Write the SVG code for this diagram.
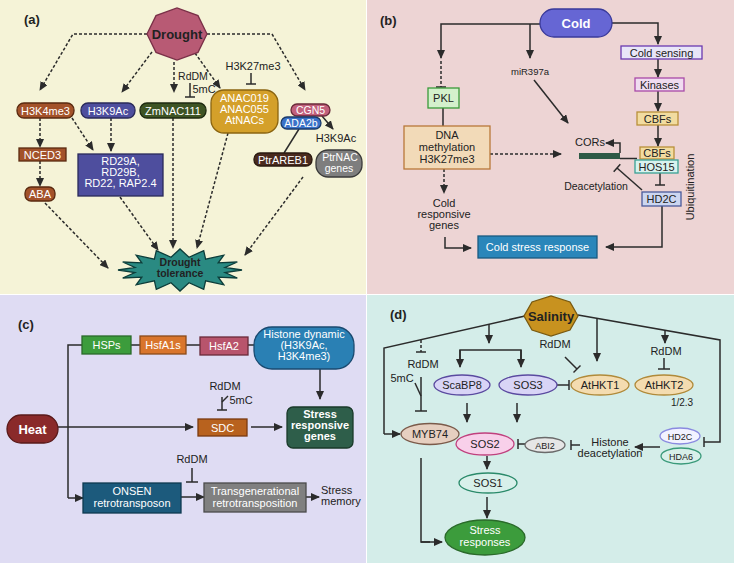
<svg xmlns="http://www.w3.org/2000/svg" width="734" height="563" viewBox="0 0 734 563">
<defs>
<marker id="ah" markerUnits="userSpaceOnUse" markerWidth="9" markerHeight="8" refX="8" refY="4" orient="auto"><path d="M0,0 L9,4 L0,8 z" fill="#2b2b2b"/></marker>
<style>
.c{stroke:#2b2b2b;stroke-width:1.5;fill:none}
.d{stroke-dasharray:3 2}
.a{marker-end:url(#ah)}
text{font-family:"Liberation Sans",Arial,sans-serif;font-size:11px;text-anchor:middle;fill:#222}
.w{fill:#fff}
.b{font-weight:bold}
.lab{font-weight:bold;font-size:13px;text-anchor:start}
.n{stroke-width:1.3}
</style>
</defs>
<rect width="734" height="563" fill="#ffffff"/>
<rect x="0" y="0" width="366" height="294" fill="#f5f3d7"/>
<rect x="367" y="0" width="367" height="294" fill="#edd4d4"/>
<rect x="0" y="295" width="366" height="268" fill="#dfdcf3"/>
<rect x="367" y="295" width="367" height="268" fill="#d4ede9"/>

<text class="lab" x="24" y="24">(a)</text>
<text class="lab" x="380" y="25">(b)</text>
<text class="lab" x="18" y="329">(c)</text>
<text class="lab" x="390" y="319">(d)</text>

<!-- connectors -->
<g id="connectors">
<!-- panel a -->
<polyline class="c d a" points="147,34 73,34 40,90"/>
<line class="c d a" x1="152" y1="52" x2="122" y2="92"/>
<line class="c d a" x1="174" y1="62" x2="174" y2="92"/>
<line class="c d a" x1="195" y1="53" x2="220" y2="88"/>
<polyline class="c d a" points="207,34 272,34 305,90"/>
<line class="c d a" x1="40" y1="118" x2="40" y2="147"/>
<line class="c d a" x1="40" y1="161" x2="40" y2="186"/>
<line class="c d a" x1="72" y1="118" x2="93" y2="150"/>
<line class="c d a" x1="111" y1="118" x2="111" y2="151"/>
<line class="c d a" x1="45" y1="203" x2="108" y2="268"/>
<line class="c d a" x1="120" y1="197" x2="158" y2="250"/>
<line class="c d a" x1="173" y1="118" x2="173" y2="248"/>
<line class="c d a" x1="228" y1="133" x2="197" y2="248"/>
<line class="c d a" x1="303" y1="177" x2="245" y2="255"/>
<line class="c" x1="251" y1="73" x2="251" y2="84"/><line class="c" x1="246" y1="84" x2="256" y2="84"/>
<line class="c" x1="190" y1="83" x2="190" y2="97"/><line class="c" x1="185" y1="97" x2="195" y2="97"/>
<line class="c a" x1="322" y1="116" x2="333" y2="129"/>
<line class="c" x1="299" y1="129" x2="284" y2="153"/>
<!-- panel b -->
<polyline class="c a" points="540,24 441,24 441,58"/>
<line class="c d" x1="441" y1="61" x2="441" y2="87"/><line class="c" x1="436" y1="87" x2="446" y2="87"/>
<line class="c" x1="443" y1="108" x2="443" y2="126"/>
<line class="c a" x1="530" y1="24" x2="530" y2="58"/>
<line class="c a" x1="534" y1="80" x2="568" y2="123"/>
<polyline class="c a" points="612,23 658,23 658,44"/>
<line class="c a" x1="658" y1="59" x2="658" y2="77"/>
<line class="c a" x1="658" y1="91" x2="658" y2="111"/>
<line class="c a" x1="658" y1="125" x2="658" y2="146"/>
<line class="c" x1="620" y1="158.5" x2="637" y2="158.5" stroke-width="1"/>
<polyline class="c a" points="620,153 620,143 606,143"/>
<line class="c d a" x1="490" y1="154" x2="561" y2="154"/>
<line class="c d a" x1="444" y1="169" x2="444" y2="193"/>
<polyline class="c a" points="445,237 445,248 471,248"/>
<line class="c" x1="660" y1="173" x2="660" y2="185"/><line class="c" x1="655" y1="185" x2="665" y2="185"/>
<polyline class="c a" points="662,206 662,247 606,247"/>
<line class="c" x1="642" y1="190" x2="617" y2="168"/><line class="c" x1="620.3" y1="164.2" x2="613.7" y2="171.8"/>
<!-- panel c -->
<polyline class="c" points="82,345 68,345 68,498"/>
<line class="c a" x1="68" y1="498" x2="83" y2="498"/>
<line class="c" x1="131" y1="345" x2="140" y2="345"/>
<line class="c" x1="186" y1="345" x2="200" y2="345"/>
<line class="c" x1="248" y1="345" x2="254" y2="345"/>
<line class="c a" x1="320" y1="369" x2="320" y2="399"/>
<line class="c a" x1="58" y1="427" x2="193" y2="427"/>
<line class="c a" x1="251" y1="427" x2="282" y2="427"/>
<line class="c" x1="222" y1="397" x2="222" y2="410"/><line class="c" x1="217" y1="410" x2="227" y2="410"/>
<line class="c" x1="222" y1="402" x2="228" y2="396" stroke-width="1"/>
<line class="c" x1="192" y1="468" x2="192" y2="482"/><line class="c" x1="186" y1="482" x2="198" y2="482"/>
<line class="c a" x1="181" y1="497" x2="204" y2="497"/>
<line class="c a" x1="306" y1="497" x2="319" y2="497"/>
<!-- panel d -->
<polyline class="c" points="525,316 384,348 384,434"/>
<line class="c a" x1="384" y1="434" x2="400" y2="434"/>
<line class="c a" x1="489" y1="324" x2="489" y2="343"/>
<polyline class="c" points="460,360 460,350 521,350 521,360"/>
<line class="c a" x1="460" y1="350" x2="460" y2="367"/>
<line class="c a" x1="521" y1="350" x2="521" y2="367"/>
<line class="c d" x1="421" y1="340" x2="421" y2="352"/><line class="c" x1="416" y1="352" x2="426" y2="352"/>
<line class="c" x1="421" y1="377" x2="421" y2="411"/><line class="c" x1="415" y1="411" x2="427" y2="411"/>
<line class="c" x1="415" y1="383" x2="421" y2="396" stroke-width="1"/>
<polyline class="c" points="578,315 720,340 720,442 704,442"/><line class="c" x1="704" y1="437" x2="704" y2="447"/>
<line class="c a" x1="597" y1="318" x2="597" y2="361"/>
<line class="c a" x1="665" y1="330" x2="665" y2="343"/>
<line class="c" x1="664" y1="358" x2="664" y2="369"/><line class="c" x1="658" y1="369" x2="670" y2="369"/>
<line class="c" x1="565" y1="357" x2="577" y2="369"/><line class="c" x1="580.5" y1="365.5" x2="573.5" y2="372.5"/>
<line class="c" x1="557" y1="385" x2="569" y2="385"/><line class="c" x1="569" y1="380" x2="569" y2="390"/>
<line class="c a" x1="467" y1="403" x2="467" y2="422"/>
<line class="c a" x1="517" y1="403" x2="517" y2="422"/>
<line class="c" x1="518" y1="444" x2="525" y2="444"/><line class="c" x1="518" y1="439" x2="518" y2="449"/>
<line class="c" x1="571" y1="445" x2="580" y2="445"/><line class="c" x1="571" y1="440" x2="571" y2="450"/>
<line class="c a" x1="660" y1="447" x2="635" y2="447"/>
<line class="c a" x1="487" y1="456" x2="487" y2="469"/>
<line class="c a" x1="487" y1="497" x2="487" y2="518"/>
<polyline class="c" points="421,458 421,542 430,542"/>
<line class="c a" x1="421" y1="542" x2="442" y2="542"/>
</g>

<!-- panel a nodes -->
<g id="drought"><polygon points="207,34 198,52.4 177,60 156,52.4 147,34 156,15.6 177,8 198,15.6" fill="#b85a74" stroke="#7a3048" class="n"/><text class="b" x="177" y="39" style="font-size:13px">Drought</text></g>
<g id="h3k4me3"><rect x="17" y="103" width="57" height="15" rx="7" fill="#a3522a" stroke="#5a2a10" class="n"/><text class="w" x="45.5" y="114.5">H3K4me3</text></g>
<g id="h3k9ac"><rect x="81" y="103" width="54" height="15" rx="7" fill="#4e4e9e" stroke="#2a2a5a" class="n"/><text class="w" x="108" y="114.5">H3K9Ac</text></g>
<g id="zmnac111"><rect x="140" y="103" width="66" height="15" rx="7" fill="#3e5424" stroke="#1e2a10" class="n"/><text class="w" x="173" y="114.5">ZmNAC111</text></g>
<g id="rddm-a"><text x="193" y="80" style="font-size:10.5px">RdDM</text><text x="204" y="93">5mC</text></g>
<g id="h3k27me3"><text x="253" y="70">H3K27me3</text></g>
<g id="anac"><rect x="211" y="90" width="67" height="43" rx="13" fill="#d4a02a" stroke="#8a6410" class="n"/><text class="w" x="244.5" y="102">ANAC019</text><text class="w" x="244.5" y="113">ANAC055</text><text class="w" x="244.5" y="124">AtNACs</text></g>
<g id="cgn5"><rect x="291" y="104" width="39" height="12" rx="6" fill="#c2607c" stroke="#6a2a3a" class="n"/><text class="w" x="310.5" y="113.5" style="font-size:10.5px">CGN5</text></g>
<g id="ada2b"><rect x="281" y="117" width="40" height="12" rx="6" fill="#3a72c8" stroke="#1a3a6a" class="n"/><text class="w" x="301" y="126.5" style="font-size:10.5px">ADA2b</text></g>
<g id="h3k9ac-label"><text x="336" y="142">H3K9Ac</text></g>
<g id="ptrareb1"><rect x="254" y="153" width="58" height="13" rx="6" fill="#4a2a1e" stroke="#2a1a10" class="n"/><text class="w" x="283" y="163.5">PtrAREB1</text></g>
<g id="ptrnac"><rect x="316" y="150" width="46" height="27" rx="12" fill="#7e7e7e" stroke="#3a3a3a" class="n"/><text class="w" x="340" y="160.5" style="font-size:10.5px">PtrNAC</text><text class="w" x="339" y="171.5" style="font-size:10.5px">genes</text></g>
<g id="nced3"><rect x="19" y="148" width="47" height="13" fill="#a3522a" stroke="#5a2a10" class="n"/><text class="w" x="42.5" y="158.5">NCED3</text></g>
<g id="aba"><rect x="25" y="187" width="30" height="14" rx="6" fill="#a3522a" stroke="#5a2a10" class="n"/><text class="w" x="40" y="198">ABA</text></g>
<g id="rd"><rect x="78" y="154" width="85" height="42" fill="#4e4e9e" stroke="#2a2a5a" class="n"/><text class="w" x="120.5" y="165">RD29A,</text><text class="w" x="120.5" y="176">RD29B,</text><text class="w" x="120.5" y="187">RD22, RAP2.4</text></g>
<g id="drought-tolerance"><polygon points="242,270 225.1,272.5 237.3,278 218.2,277.2 223.8,284.8 205.6,280.8 203.7,289.4 189,282.75 180,291 171,282.75 156.3,289.4 154.4,280.8 136.2,284.8 141.8,277.2 122.7,278 134.9,272.5 118,270 134.9,267.5 122.7,262 141.8,262.8 136.2,255.2 154.4,259.2 156.3,250.6 171,257.25 180,249 189,257.25 203.7,250.6 205.6,259.2 223.8,255.2 218.2,262.8 237.3,262 225.1,267.5" fill="#2a8a82" stroke="#0d3d3a" class="n"/><text class="b" x="180" y="266" style="font-size:10.5px">Drought</text><text class="b" x="180" y="277" style="font-size:10.5px">tolerance</text></g>

<!-- panel b nodes -->
<g id="cold"><rect x="540" y="9" width="72" height="28" rx="14" fill="#6666d4" stroke="#3a3a9a" class="n"/><text class="w b" x="576" y="28" style="font-size:13px">Cold</text></g>
<g id="pkl"><rect x="428" y="88" width="31" height="20" fill="#d4f0cc" stroke="#3a9a3a" class="n"/><text x="443.5" y="102">PKL</text></g>
<g id="mir397a"><text x="530" y="75" style="font-size:9.5px">miR397a</text></g>
<g id="dna"><rect x="404" y="126" width="86" height="43" fill="#f2dab8" stroke="#b8783a" class="n"/><text x="447" y="139">DNA</text><text x="447" y="151">methylation</text><text x="447" y="163">H3K27me3</text></g>
<g id="cold-sensing"><rect x="621" y="46" width="81" height="13" fill="#e8e6f8" stroke="#6a3ab0" class="n"/><text x="661.5" y="56.5">Cold sensing</text></g>
<g id="kinases"><rect x="635" y="78" width="49" height="13" fill="#f0dcf0" stroke="#a84aa8" class="n"/><text x="659.5" y="88.5">Kinases</text></g>
<g id="cbfs1"><rect x="637" y="112" width="41" height="13" fill="#f2dca0" stroke="#b8903a" class="n"/><text x="657.5" y="122.5">CBFs</text></g>
<g id="cbfs2"><rect x="640" y="147" width="34" height="12" fill="#f2dca0" stroke="#b8903a" class="n"/><text x="657" y="157">CBFs</text></g>
<g id="hos15"><rect x="635" y="160" width="43" height="13" fill="#d8f2ee" stroke="#3aa094" class="n"/><text x="656.5" y="170.5">HOS15</text></g>
<g id="cors"><rect x="579" y="153" width="41" height="6" fill="#2e5a46"/><text x="590" y="146">CORs</text></g>
<g id="cold-genes"><text x="444" y="207">Cold</text><text x="444" y="218">responsive</text><text x="444" y="229">genes</text></g>
<g id="hd2c-b"><rect x="642" y="192" width="39" height="14" fill="#ccd6f0" stroke="#4a5a9a" class="n"/><text x="661.5" y="203">HD2C</text></g>
<g id="deacetylation"><text x="596" y="190" style="font-size:10.5px">Deacetylation</text></g>
<g id="ubiquitination"><text x="0" y="0" transform="translate(694,187) rotate(-90)">Ubiquitination</text></g>
<g id="cold-stress"><rect x="478" y="236" width="119" height="22" fill="#2a86ba" stroke="#1a5a80" class="n"/><text class="w" x="537.5" y="251">Cold stress response</text></g>

<!-- panel c nodes -->
<g id="heat"><rect x="7" y="415" width="51" height="28" rx="14" fill="#8a2a2a" stroke="#5a1a1a" class="n"/><text class="w b" x="32.5" y="434" style="font-size:13px">Heat</text></g>
<g id="hsps"><rect x="82" y="336" width="49" height="18" fill="#3c9c3c" stroke="#2a6a2a" class="n"/><text class="w" x="106.5" y="349">HSPs</text></g>
<g id="hsfa1s"><rect x="140" y="336" width="46" height="18" fill="#d9752c" stroke="#8a4a1a" class="n"/><text class="w" x="163" y="349">HsfA1s</text></g>
<g id="hsfa2"><rect x="200" y="337" width="48" height="18" fill="#b8546c" stroke="#6a2a3a" class="n"/><text class="w" x="224" y="350">HsfA2</text></g>
<g id="histone-dynamic"><rect x="254" y="327" width="100" height="42" rx="18" fill="#2a80b4" stroke="#1a4a70" class="n"/><text class="w" x="304" y="338">Histone dynamic</text><text class="w" x="304" y="349">(H3K9Ac,</text><text class="w" x="304" y="360">H3K4me3)</text></g>
<g id="rddm-c1"><text x="225" y="390">RdDM</text><text x="241" y="404">5mC</text></g>
<g id="sdc"><rect x="198" y="419" width="49" height="17" fill="#b8621e" stroke="#7a3a10" class="n"/><text class="w" x="222.5" y="431.5">SDC</text></g>
<g id="stress-genes"><rect x="287" y="407" width="66" height="41" rx="6" fill="#2e5e4a" stroke="#1a3a2a" class="n"/><text class="w b" x="320" y="418">Stress</text><text class="w b" x="320" y="429">responsive</text><text class="w b" x="320" y="440">genes</text></g>
<g id="rddm-c2"><text x="192" y="463">RdDM</text></g>
<g id="onsen"><rect x="83" y="483" width="98" height="30" fill="#1c5a7c" stroke="#0e3a50" class="n"/><text class="w" x="132" y="495">ONSEN</text><text class="w" x="132" y="507">retrotransposon</text></g>
<g id="transgen"><rect x="204" y="483" width="102" height="29" fill="#808080" stroke="#4a4a4a" class="n"/><text class="w" x="255" y="495">Transgenerational</text><text class="w" x="255" y="507">retrotransposition</text></g>
<g id="stress-memory"><text x="321" y="494" style="text-anchor:start">Stress</text><text x="321" y="505" style="text-anchor:start">memory</text></g>

<!-- panel d nodes -->
<g id="salinity"><polygon points="578,316 570,330 551,336 532,330 524,316 532,302 551,296 570,302" fill="#c8921f" stroke="#7a5a10" class="n"/><text class="b" x="551" y="321" style="font-size:13px">Salinity</text></g>
<g id="rddm-d1"><text x="423" y="368">RdDM</text><text x="402" y="382">5mC</text></g>
<g id="rddm-d2"><text x="555" y="348">RdDM</text></g>
<g id="rddm-d3"><text x="666" y="355">RdDM</text></g>
<g id="scabp8"><ellipse cx="462" cy="385" rx="28" ry="10" fill="#d8d4f6" stroke="#5a4aa0" class="n"/><text x="462" y="389">ScaBP8</text></g>
<g id="sos3"><ellipse cx="528" cy="385" rx="29" ry="10" fill="#d8d4f6" stroke="#5a4aa0" class="n"/><text x="528" y="389">SOS3</text></g>
<g id="athkt1"><ellipse cx="600" cy="385" rx="29" ry="10" fill="#f4dcb0" stroke="#b08a3a" class="n"/><text x="600" y="389">AtHKT1</text></g>
<g id="athkt2"><ellipse cx="664" cy="385" rx="29" ry="10" fill="#f4dcb0" stroke="#b08a3a" class="n"/><text x="664" y="389">AtHKT2</text><text x="682" y="406" style="font-size:10px">1/2.3</text></g>
<g id="myb74"><ellipse cx="430" cy="434" rx="29" ry="10.5" fill="#e6cfc0" stroke="#7a5a4a" class="n"/><text x="430" y="438">MYB74</text></g>
<g id="sos2"><ellipse cx="485" cy="444" rx="29" ry="11" fill="#f8d0ea" stroke="#c0407e" class="n"/><text x="485" y="448">SOS2</text></g>
<g id="abi2"><ellipse cx="545" cy="445" rx="20" ry="7.5" fill="#e6e6e6" stroke="#6a6a6a" class="n"/><text x="545" y="448.5" style="font-size:9px">ABI2</text></g>
<g id="histone-deacetylation"><text x="610" y="446">Histone</text><text x="610" y="457">deacetylation</text></g>
<g id="hd2c-d"><ellipse cx="680" cy="436" rx="20" ry="8" fill="#f2f2ff" stroke="#8a8ae0" class="n"/><text x="680" y="439.5" style="font-size:9px">HD2C</text></g>
<g id="hda6"><ellipse cx="681" cy="456" rx="20" ry="8" fill="#d8f0ea" stroke="#3a9a7a" class="n"/><text x="681" y="459.5" style="font-size:9px">HDA6</text></g>
<g id="sos1"><ellipse cx="488" cy="483" rx="29" ry="10" fill="#d8f0ea" stroke="#2a8a6a" class="n"/><text x="488" y="487">SOS1</text></g>
<g id="stress-responses"><ellipse cx="485" cy="537.5" rx="40" ry="17.5" fill="#3c9c3c" stroke="#2a6a2a" class="n"/><text class="w" x="485" y="534">Stress</text><text class="w" x="485" y="546">responses</text></g>
</svg>
